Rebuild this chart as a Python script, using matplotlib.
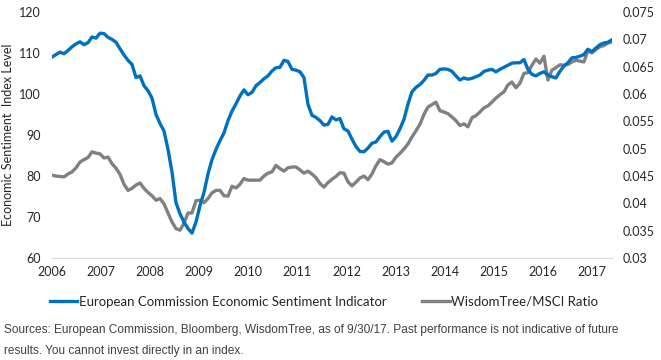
import matplotlib
matplotlib.use('Agg')
import matplotlib.pyplot as plt
from matplotlib.lines import Line2D

# monthly, Jan 2006 - Sep 2017
esi = [109.0, 109.6, 110.2, 109.8, 110.6, 111.5, 112.2, 112.7, 112.0, 112.5, 113.9, 113.6,
       114.8, 114.7, 113.8, 113.3, 112.6, 111.0, 109.5, 108.2, 107.2, 104.0, 104.4, 102.0,
       100.8, 99.0, 95.0, 92.8, 91.0, 86.5, 81.0, 73.5, 70.8, 68.8, 67.2, 66.1,
       68.8, 72.8, 76.0, 80.5, 84.0, 86.5, 88.6, 90.5, 93.5, 95.8, 97.6, 99.5,
       101.0, 99.8, 100.4, 102.0, 102.8, 103.7, 104.4, 105.6, 106.4, 106.5, 108.2, 107.9,
       106.0, 105.8, 105.4, 104.0, 97.5, 94.8, 94.3, 93.5, 92.4, 92.6, 94.4, 93.7,
       94.0, 91.5, 91.0, 89.0, 87.2, 86.0, 85.9, 86.8, 88.0, 88.3, 89.6, 90.7,
       90.9, 88.5, 89.6, 91.5, 93.8, 97.5, 100.5, 101.6, 102.3, 103.3, 104.6, 104.6,
       105.0, 106.0, 106.1, 106.0, 105.5, 104.4, 103.4, 103.9, 103.6, 103.8, 104.2, 104.6,
       105.5, 105.8, 106.0, 105.4, 106.0, 106.5, 107.0, 107.5, 107.6, 107.6, 108.4, 106.0,
       104.8, 104.4, 105.0, 105.4, 104.6, 104.2, 103.9, 105.5, 106.8, 107.6, 108.8, 108.9,
       109.2, 109.6, 110.9, 110.3, 111.2, 112.0, 112.4, 112.6, 113.2]

ratio = [0.04515, 0.0450, 0.04493, 0.04485, 0.04538, 0.04575, 0.0465, 0.04755, 0.0480, 0.04838, 0.04943, 0.0492,
         0.04905, 0.0483, 0.04845, 0.04725, 0.04643, 0.0453, 0.0435, 0.04238, 0.04275, 0.04335, 0.04373, 0.04275,
         0.042, 0.0414, 0.04058, 0.04088, 0.0399, 0.03825, 0.0366, 0.0354, 0.0351, 0.03638, 0.03825, 0.03825,
         0.0405, 0.04058, 0.04013, 0.04088, 0.04193, 0.04238, 0.04238, 0.0414, 0.04133, 0.04313, 0.04283, 0.0435,
         0.04455, 0.04425, 0.04425, 0.04425, 0.04425, 0.0450, 0.04553, 0.04575, 0.04695, 0.04635, 0.0459, 0.0465,
         0.04665, 0.04665, 0.04613, 0.04553, 0.0459, 0.04538, 0.0447, 0.04365, 0.04298, 0.0438, 0.0444, 0.04493,
         0.0456, 0.04553, 0.04395, 0.0432, 0.04388, 0.04463, 0.0450, 0.04433, 0.04538, 0.04688, 0.0480, 0.04763,
         0.04718, 0.0474, 0.04845, 0.04913, 0.04995, 0.05085, 0.05213, 0.05325, 0.05445, 0.05625, 0.0576, 0.05805,
         0.0585, 0.05693, 0.0567, 0.0564, 0.0558, 0.05513, 0.05423, 0.05453, 0.054, 0.05565, 0.05603, 0.0567,
         0.05745, 0.05783, 0.0585, 0.05925, 0.05985, 0.06038, 0.06165, 0.06218, 0.06113, 0.06195, 0.06375, 0.0639,
         0.06525, 0.06638, 0.06563, 0.0669, 0.06255, 0.06435, 0.0648, 0.06533, 0.06525, 0.0654, 0.06585, 0.06615,
         0.066, 0.06585, 0.06788, 0.0675, 0.0681, 0.06863, 0.06885, 0.0693, 0.06953]

years = ['2006', '2007', '2008', '2009', '2010', '2011', '2012', '2013', '2014', '2015', '2016', '2017']
left_ticks = [60, 70, 80, 90, 100, 110, 120]
right_ticks = [0.03, 0.035, 0.04, 0.045, 0.05, 0.055, 0.06, 0.065, 0.07, 0.075]

BLUE = '#0070C0'
GREY = '#808080'
TXT = '#262626'

plt.rcParams['font.family'] = ['Lato', 'DejaVu Sans']

fig = plt.figure(figsize=(6.61, 3.6), dpi=100)
ax = fig.add_axes([0.0787, 0.283, 0.847, 0.684])
ax2 = ax.twinx()

x = list(range(len(esi)))
ax.plot(x, esi, color=BLUE, lw=2.4, solid_joinstyle='round', zorder=3)
ax2.plot(x, ratio, color=GREY, lw=2.4, solid_joinstyle='round', zorder=2)
ax.set_zorder(ax2.get_zorder() + 1)
ax.patch.set_visible(False)

ax.set_xlim(0, len(esi) - 1)
ax.set_ylim(60, 120)
ax2.set_ylim(0.03, 0.075)
ax.set_yticks(left_ticks)
ax.set_yticklabels([str(t) for t in left_ticks])
ax2.set_yticks(right_ticks)
ax2.set_yticklabels(['%g' % t for t in right_ticks])
ax.set_xticks([i * 12.27 for i in range(len(years))])
ax.set_xticklabels(years)

for a in (ax, ax2):
    for s in a.spines.values():
        s.set_visible(False)
    a.tick_params(length=0, labelsize=9, colors=TXT)
ax.spines['bottom'].set_visible(True)
ax.spines['bottom'].set_color('#D9D9D9')
ax.tick_params(axis='y', pad=8)
ax.tick_params(axis='x', pad=6)
ax2.tick_params(axis='y', pad=8)

ax.set_ylabel('Economic Sentiment  Index Level', fontsize=9, color=TXT, labelpad=4)

handles = [Line2D([], [], color=BLUE, lw=2.4), Line2D([], [], color=GREY, lw=2.4)]
fig.legend(handles, ['European Commission Economic Sentiment Indicator', 'WisdomTree/MSCI Ratio'],
           loc='center', bbox_to_anchor=(0.49, 0.162), ncol=2, frameon=False, fontsize=9.5,
           handlelength=2.1, handletextpad=0.1, columnspacing=2.7, labelcolor=TXT)

fig.text(0.006, 0.083, 'Sources: European Commission, Bloomberg, WisdomTree, as of 9/30/17. Past performance is not indicative of future',
         fontsize=8.6, color='#404040', family=['Liberation Sans Narrow', 'Liberation Sans'], va='center')
fig.text(0.006, 0.026, 'results. You cannot invest directly in an index.',
         fontsize=8.6, color='#404040', family=['Liberation Sans Narrow', 'Liberation Sans'], va='center')

fig.savefig('out.png', dpi=100)
